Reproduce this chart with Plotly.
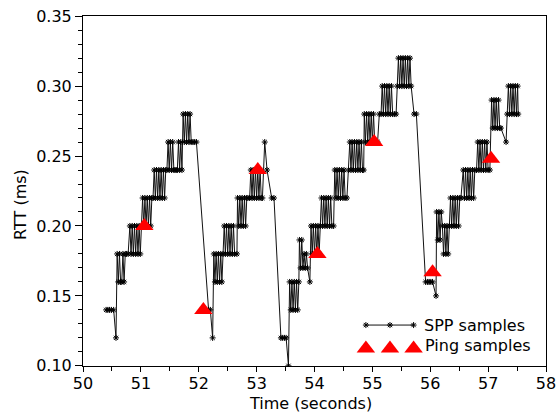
import plotly.graph_objects as go

# ---- data ----
spp_time = [
    50.40, 50.43, 50.46, 50.49, 50.53, 50.57, 50.59, 50.61, 50.63, 50.65,
    50.67, 50.69, 50.71, 50.73, 50.75, 50.78, 50.81, 50.83, 50.85, 50.87,
    50.89, 50.91, 50.93, 50.95, 50.97, 50.99, 51.01, 51.03, 51.05, 51.07,
    51.09, 51.11, 51.13, 51.15, 51.17, 51.19, 51.21, 51.23, 51.25, 51.27,
    51.29, 51.31, 51.33, 51.35, 51.37, 51.39, 51.41, 51.43, 51.45, 51.47,
    51.49, 51.51, 51.53, 51.55, 51.57, 51.59, 51.61, 51.63, 51.65, 51.67,
    51.69, 51.71, 51.73, 51.75, 51.77, 51.79, 51.81, 51.83, 51.85, 51.87,
    51.90, 51.93, 51.96, 52.17, 52.20, 52.24,
    52.26, 52.28, 52.30, 52.32, 52.34, 52.36, 52.38, 52.40, 52.42, 52.44,
    52.46, 52.48, 52.50, 52.52, 52.54, 52.56, 52.58, 52.60, 52.62, 52.66,
    52.67, 52.69, 52.71, 52.73, 52.75, 52.77, 52.79, 52.81, 52.83, 52.85,
    52.88, 52.90, 52.92, 52.94, 52.96, 52.98, 53.00, 53.02, 53.04, 53.06,
    53.08, 53.10, 53.14, 53.18, 53.26, 53.30, 53.42, 53.45, 53.48, 53.51,
    53.55,
    53.57, 53.59, 53.61, 53.63, 53.65, 53.67, 53.69, 53.71, 53.73, 53.74,
    53.76, 53.78, 53.80, 53.82, 53.84, 53.86, 53.88, 53.92, 53.94, 53.96,
    53.98, 54.00, 54.02, 54.04, 54.06, 54.08, 54.10, 54.12, 54.14, 54.16,
    54.18, 54.20, 54.22, 54.24, 54.26, 54.28, 54.30, 54.33, 54.35, 54.37,
    54.39, 54.41, 54.43, 54.45, 54.47, 54.49, 54.51, 54.53, 54.56, 54.59,
    54.61, 54.63, 54.65, 54.67, 54.69, 54.71, 54.73, 54.75, 54.77, 54.79,
    54.81, 54.83, 54.85, 54.86, 54.88, 54.90, 54.92, 54.94, 54.96, 54.98,
    55.00, 55.02, 55.04, 55.07, 55.09, 55.12, 55.15, 55.17, 55.19, 55.21,
    55.23, 55.25, 55.27, 55.29, 55.31, 55.33, 55.35, 55.38, 55.41, 55.43,
    55.45, 55.47, 55.49, 55.51, 55.53, 55.55, 55.57, 55.59, 55.61, 55.63,
    55.65, 55.67, 55.72, 55.76, 55.92, 55.95, 55.98, 56.01, 56.04, 56.10,
    56.11, 56.13, 56.15, 56.17, 56.19, 56.21, 56.23, 56.25, 56.27, 56.29,
    56.31, 56.33, 56.35, 56.37, 56.39, 56.41, 56.43, 56.45, 56.47, 56.49,
    56.51, 56.53, 56.57, 56.59, 56.61, 56.63, 56.65, 56.67, 56.69, 56.71,
    56.73, 56.75, 56.77, 56.80, 56.82, 56.84, 56.86, 56.88, 56.90, 56.92,
    56.94, 56.96, 56.98, 57.00, 57.03, 57.06, 57.08, 57.10, 57.12, 57.14,
    57.16, 57.18, 57.20, 57.22, 57.31, 57.33, 57.35, 57.37, 57.39, 57.41,
    57.43, 57.45, 57.47, 57.49, 57.51, 57.52,
]
spp_rtt = [
    0.14, 0.14, 0.14, 0.14, 0.14, 0.12, 0.18, 0.16, 0.18, 0.16,
    0.16, 0.18, 0.16, 0.18, 0.18, 0.18, 0.20, 0.18, 0.20, 0.18,
    0.20, 0.18, 0.20, 0.18, 0.20, 0.18, 0.20, 0.22, 0.20, 0.22,
    0.20, 0.22, 0.20, 0.22, 0.20, 0.22, 0.22, 0.24, 0.22, 0.24,
    0.22, 0.24, 0.22, 0.24, 0.22, 0.24, 0.22, 0.24, 0.24, 0.26,
    0.24, 0.26, 0.24, 0.26, 0.24, 0.24, 0.24, 0.24, 0.26, 0.24,
    0.26, 0.24, 0.28, 0.26, 0.28, 0.26, 0.28, 0.26, 0.28, 0.26,
    0.26, 0.26, 0.26, 0.14, 0.14, 0.12,
    0.18, 0.16, 0.18, 0.16, 0.18, 0.16, 0.18, 0.16, 0.18, 0.20,
    0.18, 0.20, 0.18, 0.20, 0.18, 0.20, 0.18, 0.20, 0.18, 0.18,
    0.22, 0.20, 0.22, 0.20, 0.22, 0.20, 0.22, 0.20, 0.22, 0.22,
    0.22, 0.24, 0.22, 0.24, 0.22, 0.24, 0.22, 0.24, 0.22, 0.24,
    0.22, 0.22, 0.26, 0.24, 0.22, 0.22, 0.12, 0.12, 0.12, 0.12,
    0.10,
    0.16, 0.14, 0.16, 0.14, 0.16, 0.14, 0.16, 0.14, 0.16, 0.19,
    0.17, 0.19, 0.17, 0.18, 0.17, 0.18, 0.17, 0.16, 0.20, 0.18,
    0.20, 0.18, 0.20, 0.18, 0.20, 0.18, 0.20, 0.22, 0.20, 0.22,
    0.20, 0.22, 0.20, 0.22, 0.20, 0.22, 0.20, 0.20, 0.24, 0.22,
    0.24, 0.22, 0.24, 0.22, 0.24, 0.22, 0.24, 0.22, 0.22, 0.24,
    0.26, 0.24, 0.26, 0.24, 0.26, 0.24, 0.26, 0.24, 0.26, 0.24,
    0.26, 0.24, 0.24, 0.28, 0.26, 0.28, 0.26, 0.28, 0.26, 0.28,
    0.26, 0.28, 0.26, 0.26, 0.26, 0.28, 0.28, 0.30, 0.28, 0.30,
    0.28, 0.30, 0.28, 0.30, 0.28, 0.30, 0.28, 0.28, 0.28, 0.30,
    0.32, 0.30, 0.32, 0.30, 0.32, 0.30, 0.32, 0.30, 0.32, 0.30,
    0.32, 0.30, 0.28, 0.28, 0.16, 0.16, 0.16, 0.16, 0.16, 0.15,
    0.21, 0.19, 0.21, 0.19, 0.21, 0.20, 0.18, 0.20, 0.18, 0.20,
    0.18, 0.20, 0.22, 0.20, 0.22, 0.20, 0.22, 0.20, 0.22, 0.20,
    0.22, 0.22, 0.24, 0.22, 0.24, 0.22, 0.24, 0.22, 0.24, 0.22,
    0.24, 0.22, 0.24, 0.24, 0.26, 0.24, 0.26, 0.24, 0.26, 0.24,
    0.26, 0.24, 0.26, 0.24, 0.24, 0.29, 0.27, 0.29, 0.27, 0.29,
    0.27, 0.29, 0.27, 0.27, 0.26, 0.28, 0.30, 0.28, 0.30, 0.28,
    0.30, 0.28, 0.30, 0.28, 0.30, 0.28,
]
ping_time = [51.06, 52.08, 53.02, 54.05, 55.03, 56.04, 57.05]
ping_rtt = [0.200, 0.140, 0.240, 0.180, 0.260, 0.167, 0.248]

x_tick_vals = [50, 51, 52, 53, 54, 55, 56, 57, 58]
x_tick_text = ["50", "51", "52", "53", "54", "55", "56", "57", "58"]
y_tick_vals = [0.10, 0.15, 0.20, 0.25, 0.30, 0.35]
y_tick_text = ["0.10", "0.15", "0.20", "0.25", "0.30", "0.35"]
series_names = ["SPP samples", "Ping samples"]
x_title = "Time (seconds)"
y_title = "RTT (ms)"

FONT = "DejaVu Sans"
spp_line = dict(color="#111111", width=1)
spp_marker = dict(symbol="asterisk-open", size=5, color="black",
                  line=dict(width=1, color="black"))
ping_marker = dict(symbol="triangle-up", size=16, color="#ff0000",
                   line=dict(width=0))

fig = go.Figure()
fig.add_trace(go.Scatter(x=spp_time, y=spp_rtt, mode="lines+markers",
                         line=spp_line, marker=spp_marker,
                         name=series_names[0], showlegend=False))
fig.add_trace(go.Scatter(x=ping_time, y=ping_rtt, mode="markers",
                         marker=ping_marker, name=series_names[1],
                         showlegend=False))

# custom legend keys (three symbols each, as in the original)
key_x = [0.611, 0.663, 0.714]
fig.add_trace(go.Scatter(x=key_x, y=[0.117] * 3, xaxis="x2", yaxis="y2",
                         mode="lines+markers", line=spp_line,
                         marker=spp_marker, showlegend=False,
                         hoverinfo="skip"))
fig.add_trace(go.Scatter(x=key_x, y=[0.050] * 3, xaxis="x2", yaxis="y2",
                         mode="markers", marker=ping_marker,
                         showlegend=False, hoverinfo="skip"))

axis_common = dict(showline=True, linecolor="black", linewidth=1,
                   mirror=True, ticks="outside", tickcolor="black",
                   showgrid=False, zeroline=False, automargin=False,
                   tickfont=dict(family=FONT, size=16, color="black"))

fig.update_layout(
    width=558, height=412,
    margin=dict(l=83, r=12, t=16, b=46, autoexpand=False),
    paper_bgcolor="white", plot_bgcolor="white",
    font=dict(family=FONT, size=16, color="black"),
    xaxis=dict(range=[50, 58], tickmode="array", tickvals=x_tick_vals,
               ticktext=x_tick_text, ticklen=5, ticklabelstandoff=-2,
               minor=dict(dtick=0.5, tick0=50, ticklen=4, ticks="outside",
                          tickcolor="black"),
               **axis_common),
    yaxis=dict(range=[0.0999, 0.3501], tickmode="array",
               tickvals=y_tick_vals, ticktext=y_tick_text, ticklen=7,
               minor=dict(dtick=0.01, tick0=0.10, ticklen=4,
                          ticks="outside", tickcolor="black"),
               **axis_common),
    xaxis2=dict(overlaying="x", anchor="y2", range=[0, 1], visible=False),
    yaxis2=dict(overlaying="y", anchor="x2", range=[0, 1], visible=False),
    annotations=[
        dict(text=series_names[0], x=0.733, y=0.117, xref="paper",
             yref="paper", xanchor="left", yanchor="middle",
             showarrow=False, font=dict(family=FONT, size=16)),
        dict(text=series_names[1], x=0.735, y=0.058, xref="paper",
             yref="paper", xanchor="left", yanchor="middle",
             showarrow=False, font=dict(family=FONT, size=16)),
        dict(text=x_title, x=0.4924, y=-0.108, xref="paper", yref="paper",
             xanchor="center", yanchor="middle", showarrow=False,
             font=dict(family=FONT, size=16)),
        dict(text=y_title, x=-0.134, y=0.463, xref="paper", yref="paper",
             xanchor="center", yanchor="middle", textangle=-90,
             showarrow=False, font=dict(family=FONT, size=16)),
    ],
)

# remove the default 8px page margin so the figure fills the window exactly
fig.write_html("out.html",
               config={"displayModeBar": False},
               post_script="document.body.style.margin='0';"
                           "document.body.style.overflow='hidden';")
